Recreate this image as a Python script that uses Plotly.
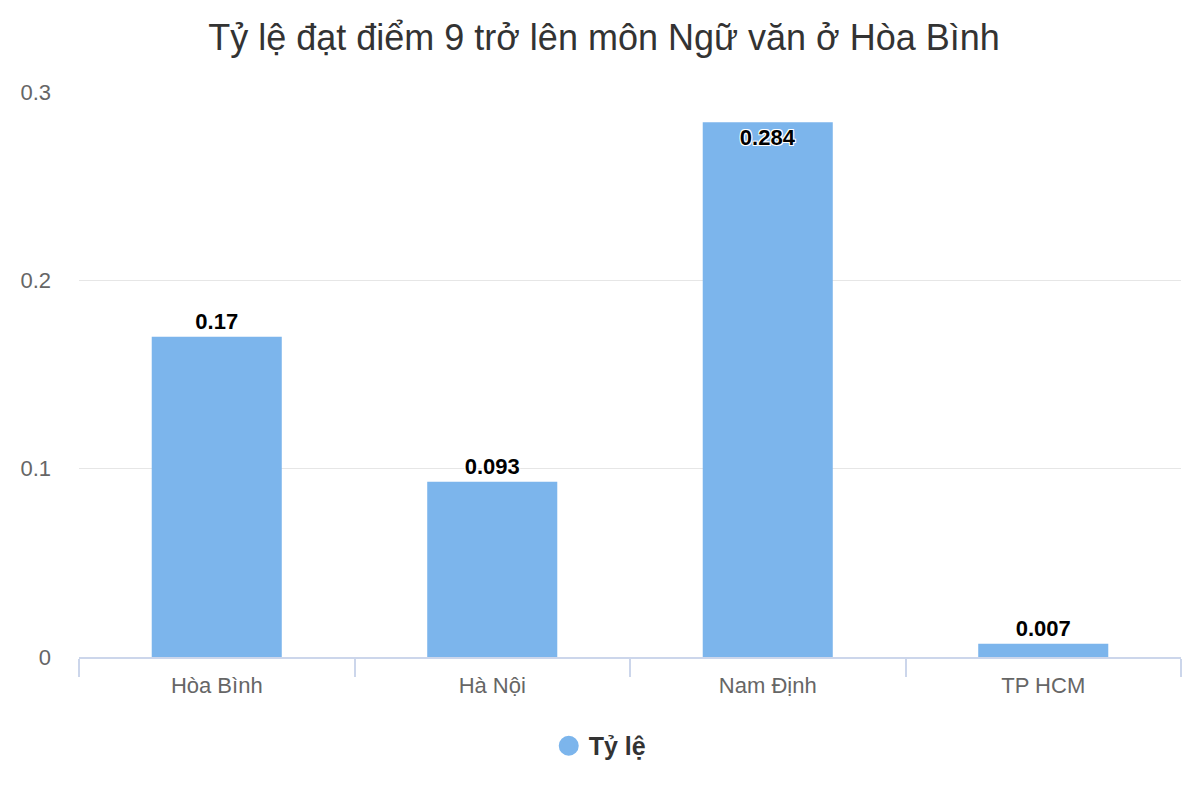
import plotly.graph_objects as go

# Data
provinces = ['Hòa Bình', 'Hà Nội', 'Nam Định', 'TP HCM']
ty_le = [0.17, 0.093, 0.284, 0.007]
label_pos = ['outside', 'outside', 'inside', 'outside']

bar_color = '#7cb5ec'
outline = ('white 1px 1px 0px, white -1px -1px 0px, '
           'white 1px -1px 0px, white -1px 1px 0px')

fig = go.Figure()

fig.add_trace(go.Bar(
    x=provinces,
    y=ty_le,
    marker=dict(color=bar_color, line=dict(width=0)),
    text=[str(v) for v in ty_le],
    textposition=label_pos,
    insidetextanchor='end',
    textangle=0,
    textfont=dict(family='Liberation Sans, Arial, sans-serif', size=22,
                  color='black', weight='bold', shadow=outline),
    cliponaxis=False,
    showlegend=False,
))

# legend entry drawn as a circle, like the original
fig.add_trace(go.Scatter(
    x=[None], y=[None],
    mode='markers',
    marker=dict(color=bar_color, size=16, symbol='circle',
                line=dict(color=bar_color, width=4)),
    name='Tỷ lệ',
))

# page body has an 8px margin, so the figure is a bit smaller than the window
fig.update_layout(
    width=1192, height=792,
    paper_bgcolor='white', plot_bgcolor='white',
    font=dict(family='Liberation Sans, Arial, sans-serif'),
    title=dict(text='Tỷ lệ đạt điểm 9 trở lên môn Ngữ văn ở Hòa Bình',
               x=0.5, xanchor='center', y=1 - 29 / 792, yanchor='middle',
               font=dict(size=36, color='#333333')),
    margin=dict(l=71, r=19, t=84, b=143),
    bargap=0.528,
    legend=dict(orientation='h', x=0.473, xanchor='center',
                y=-0.1575, yanchor='middle',
                font=dict(size=25, color='#333333', weight='bold'),
                itemsizing='trace'),
)

fig.update_xaxes(
    showgrid=False,
    showline=True, linecolor='#ccd6eb', linewidth=2,
    ticks='outside', tickson='boundaries', ticklen=18,
    tickcolor='#ccd6eb', tickwidth=2,
    ticklabelstandoff=8,
    tickfont=dict(size=22, color='#666666'),
)

fig.update_yaxes(
    range=[0, 0.3],
    tickvals=[0, 0.1, 0.2, 0.3],
    ticktext=['0', '0.1', '0.2', '0.3'],
    showgrid=True, gridcolor='#e6e6e6', gridwidth=1,
    zeroline=False, showline=False,
    ticks='', ticklabelstandoff=27,
    tickfont=dict(size=22, color='#666666'),
)

fig.write_html('out.html')
